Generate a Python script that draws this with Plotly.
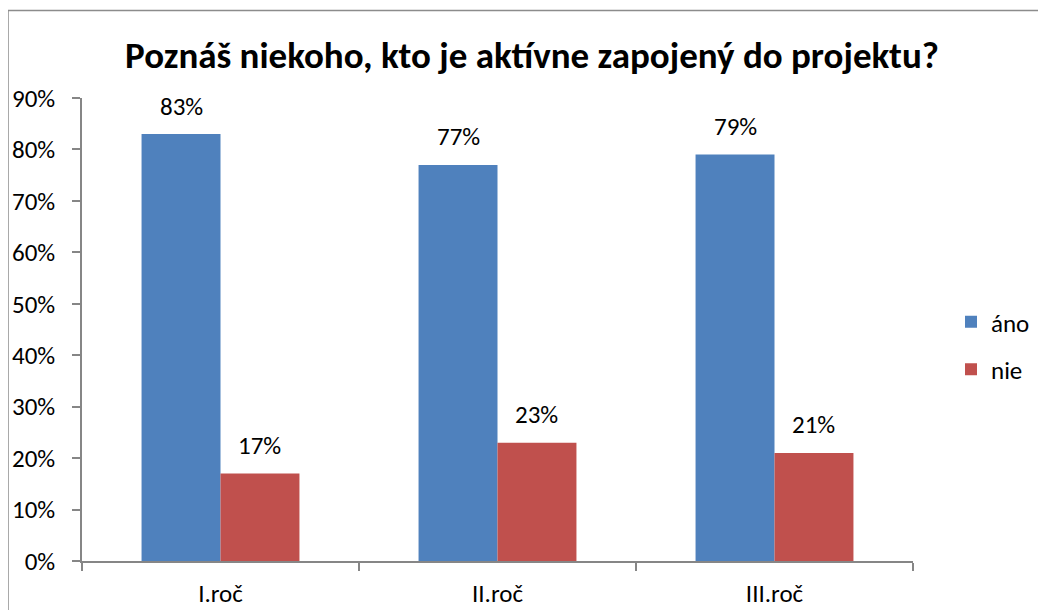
import plotly.graph_objects as go

title = "Poznáš niekoho, kto je aktívne zapojený do projektu?"
categories = ["I.roč", "II.roč", "III.roč"]
series_names = ["áno", "nie"]
ano_values = [0.83, 0.77, 0.79]
nie_values = [0.17, 0.23, 0.21]
colors = ["#4F81BD", "#C0504D"]

FONT = "Carlito, Lato, sans-serif"
W, H = 1046, 610
OFF = 8  # page body margin
ML, MR, MT, MB = 82 - OFF, 133 + OFF, 98 - OFF, 49 + OFF
PW, PH = W - ML - MR, H - MT - MB

fig = go.Figure()
for name, vals, col in zip(series_names, [ano_values, nie_values], colors):
    fig.add_trace(go.Bar(
        x=categories, y=vals, name=name, marker=dict(color=col, line=dict(width=0)),
        legendgroup=name,
    ))

bar_w = (1 - 0.43) / 2 * PW / len(categories)
annotations = []
for i, vals in enumerate([ano_values, nie_values]):
    shift = (-0.5 if i == 0 else 0.5) * bar_w
    for c, v in zip(categories, vals):
        annotations.append(dict(
            x=c, y=v, xref="x", yref="y", text=f"{round(v*100)}%",
            showarrow=False, xshift=shift, yshift=28, yanchor="middle",
            font=dict(family=FONT, size=25, color="black"),
        ))

def px_x(p):
    # p in screen px
    return (p - OFF - ML) / PW

def px_y(p):
    return (H - MB - (p - OFF)) / PH

shapes = [
    dict(type="line", xref="paper", yref="paper", x0=px_x(8), x1=px_x(8), y0=px_y(10), y1=px_y(640),
         line=dict(color="#8C8C8C", width=1.5)),
    dict(type="line", xref="paper", yref="paper", x0=px_x(8), x1=px_x(1070), y0=px_y(10.5), y1=px_y(10.5),
         line=dict(color="#8C8C8C", width=1.5)),
]

fig.update_layout(
    width=W, height=H,
    margin=dict(l=ML, r=MR, t=MT, b=MB, autoexpand=False),
    paper_bgcolor="white", plot_bgcolor="white",
    barmode="group", bargap=0.43, bargroupgap=0,
    title=dict(text=f"<b>{title}</b>", x=(532 - OFF) / W, xanchor="center", xref="container",
               y=1 - (55 - OFF) / H, yanchor="middle", font=dict(family=FONT, size=37, color="black")),
    font=dict(family=FONT, size=25, color="black"),
    legend=dict(x=px_x(951), y=px_y(299), xanchor="left", yanchor="top",
                font=dict(family=FONT, size=25, color="black"),
                tracegroupgap=12, itemwidth=30, bgcolor="rgba(0,0,0,0)"),
    annotations=annotations,
    shapes=shapes,
    xaxis=dict(showline=True, linecolor="#868686", linewidth=1.5, ticks="outside", tickson="boundaries",
               ticklen=8, tickcolor="#868686", tickwidth=1.5, showgrid=False, automargin=False,
               tickfont=dict(family=FONT, size=25, color="black"), ticklabelstandoff=9),
    yaxis=dict(range=[0, 0.9], dtick=0.1, tickformat=".0%", showline=True, linecolor="#868686",
               linewidth=1.5, ticks="outside", ticklen=8, tickcolor="#868686", tickwidth=1.5,
               showgrid=False, zeroline=False, automargin=False,
               tickfont=dict(family=FONT, size=25, color="black"), ticklabelstandoff=12),
)

fig.write_html("out.html")
